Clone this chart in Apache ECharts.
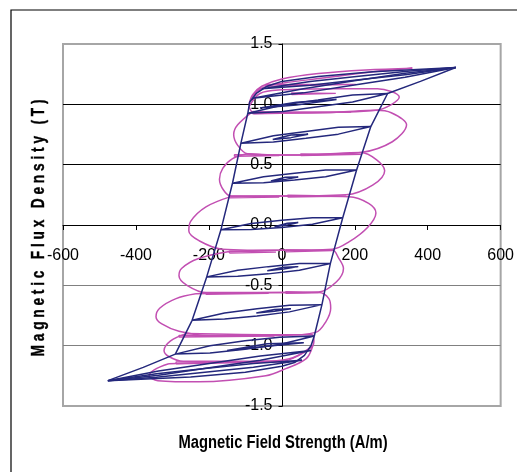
<!DOCTYPE html>
<html>
<head>
<meta charset="utf-8">
<script src="https://cdn.jsdelivr.net/npm/echarts@6/dist/echarts.min.js"></script>
<style>
html, body { margin: 0; padding: 0; background: #fff; }
#chart { width: 517px; height: 472px; }
</style>
</head>
<body>
<div id="chart"></div>
<script>
// --- navy: main loop branches ---
var navyLeft   = [[-93,0.93],[-112,0.68],[-135,0.35],[-167,-0.04],[-206,-0.43],[-246,-0.79],[-292,-1.07],[-380,-1.18],[-477,-1.29]];
var navyRight  = [[89,-0.92],[110,-0.66],[133,-0.32],[167,0.06],[205,0.456],[244,0.816],[290,1.09],[380,1.19],[477,1.305]];
var navyTop    = [[-93,0.93],[-88,1.02],[-70,1.09],[-40,1.15],[0,1.19],[100,1.23],[250,1.27],[477,1.305]];
var navyBottom = [[89,-0.92],[80,-1.0],[62,-1.08],[35,-1.14],[0,-1.17],[-100,-1.22],[-250,-1.26],[-477,-1.29]];

// --- navy: minor loops ---
var loopA  = [[-292,-1.07],[-197,-1.06],[-101,-1.03],[-6,-0.99],[89,-0.92],[-6,-0.93],[-101,-0.96],[-197,-1.0],[-292,-1.07]];
var loopB  = [[-246,-0.79],[-157,-0.78],[-68,-0.755],[21,-0.72],[110,-0.66],[21,-0.665],[-68,-0.695],[-157,-0.73],[-246,-0.79]];
var loopC  = [[-206,-0.43],[-121,-0.425],[-37,-0.405],[48,-0.375],[133,-0.32],[48,-0.32],[-37,-0.345],[-121,-0.375],[-206,-0.43]];
var loopD  = [[-167,-0.04],[-84,-0.037],[0,-0.02],[84,0.007],[167,0.06],[84,0.06],[0,0.04],[-84,0.013],[-167,-0.04]];
var loopE  = [[-135,0.346],[-50,0.35],[35,0.373],[120,0.4],[205,0.456],[120,0.455],[35,0.428],[-50,0.4],[-135,0.346]];
var loopF  = [[-112,0.677],[-23,0.688],[66,0.718],[155,0.753],[244,0.816],[155,0.81],[66,0.775],[-23,0.74],[-112,0.677]];
var loopG  = [[-93,0.926],[3,0.94],[99,0.98],[194,1.02],[290,1.09],[194,1.078],[99,1.036],[3,0.995],[-93,0.926]];
var loopH1 = [[-80,1.05],[59,1.095],[199,1.16],[338,1.225],[477,1.305],[338,1.258],[199,1.195],[59,1.13],[-80,1.05]];
var loopH2 = [[-55,1.13],[78,1.158],[211,1.203],[344,1.248],[477,1.305],[344,1.275],[211,1.233],[78,1.19],[-55,1.13]];
var loopK1 = [[-477,-1.29],[-338,-1.245],[-199,-1.183],[-59,-1.12],[80,-1.04],[-59,-1.085],[-199,-1.148],[-338,-1.21],[-477,-1.29]];
var loopK2 = [[-477,-1.29],[-344,-1.262],[-211,-1.22],[-78,-1.178],[55,-1.12],[-78,-1.148],[-211,-1.19],[-344,-1.232],[-477,-1.29]];
var innerA = [[-150,-1.04],[-40,-1.005],[60,-0.975],[-40,-0.985],[-150,-1.04]];
var innerB = [[-70,-0.73],[-20,-0.715],[25,-0.695],[-20,-0.7],[-70,-0.73]];
var innerC = [[-40,-0.38],[5,-0.365],[45,-0.345],[5,-0.35],[-40,-0.38]];
var innerD = [[-20,-0.015],[15,0.0],[45,0.02],[15,0.015],[-20,-0.015]];
var innerE = [[-30,0.365],[10,0.378],[45,0.398],[10,0.395],[-30,0.365]];
var innerF = [[-25,0.708],[25,0.724],[72,0.752],[25,0.745],[-25,0.708]];
var innerG = [[-60,0.97],[40,0.995],[150,1.04],[40,1.018],[-60,0.97]];

// --- magenta loops ---
var magT  = [[-90,1.0],[-80,1.08],[-55,1.15],[0,1.21],[100,1.255],[230,1.285],[358,1.30],[250,1.27],[120,1.22],[0,1.175],[-50,1.14],[-80,1.07],[-90,1.0]];
var mag3  = [[-90,0.98],[-60,1.09],[0,1.12],[150,1.13],[262,1.13],[322,1.06],[258,0.95],[150,0.935],[0,0.93],[-75,0.925],[-90,0.98]];
var mag2  = [[-80,0.94],[-121,0.83],[-132,0.75],[-121,0.66],[-94,0.59],[0,0.58],[120,0.585],[217,0.6],[303,0.69],[342,0.83],[300,0.93],[258,0.95],[150,0.935],[0,0.93],[-80,0.94]];
var mag1  = [[-94,0.59],[-135,0.55],[-162,0.47],[-171,0.38],[-160,0.29],[-140,0.24],[0,0.24],[176,0.25],[249,0.33],[282,0.45],[260,0.54],[217,0.6],[100,0.585],[0,0.58],[-94,0.59]];
var mag0  = [[-140,0.235],[-208,0.15],[-250,0.03],[-255,-0.05],[-227,-0.13],[-164,-0.2],[0,-0.21],[139,-0.2],[184,-0.14],[235,-0.02],[258,0.1],[238,0.18],[184,0.235],[0,0.24],[-140,0.235]];
var magM1 = [[-144,-0.22],[-230,-0.28],[-275,-0.36],[-282,-0.42],[-260,-0.5],[-208,-0.56],[0,-0.56],[101,-0.555],[150,-0.47],[169,-0.36],[155,-0.27],[139,-0.21],[0,-0.21],[-144,-0.22]];
var magM2 = [[-236,-0.57],[-290,-0.61],[-335,-0.69],[-345,-0.76],[-329,-0.82],[-282,-0.88],[-200,-0.915],[0,-0.915],[93,-0.89],[121,-0.8],[134,-0.69],[129,-0.61],[101,-0.56],[0,-0.56],[-236,-0.57]];
var magM3 = [[-263,-0.9],[-305,-0.96],[-323,-1.04],[-310,-1.09],[-270,-1.13],[0,-1.13],[47,-1.08],[85,-1.0],[88,-0.95],[82,-0.91],[0,-0.91],[-263,-0.9]];
var magM4 = [[-310,-1.15],[-350,-1.2],[-364,-1.25],[-340,-1.29],[-227,-1.30],[-44,-1.25],[11,-1.19],[66,-1.11],[85,-1.0],[30,-1.1],[-44,-1.13],[-200,-1.14],[-310,-1.15]];

// --- magenta flat double segments at the loop levels ---
var dashes = [
	[[-44,1.15],[203,1.165],[203,1.18],[-44,1.165],[-44,1.15]],
	[[27,1.08],[148,1.09],[148,1.105],[27,1.095],[27,1.08]],
	[[-80,0.922],[190,0.935],[190,0.95],[-80,0.937],[-80,0.922]],
	[[-130,0.568],[-7,0.575],[-7,0.59],[-130,0.583],[-130,0.568]],
	[[52,0.575],[217,0.585],[217,0.6],[52,0.59],[52,0.575]],
	[[-144,0.225],[-7,0.232],[-7,0.247],[-144,0.24],[-144,0.225]],
	[[16,0.232],[176,0.24],[176,0.255],[16,0.247],[16,0.232]],
	[[-144,-0.232],[-16,-0.225],[-16,-0.21],[-144,-0.217],[-144,-0.232]],
	[[11,-0.222],[139,-0.212],[139,-0.197],[11,-0.207],[11,-0.222]],
	[[-208,-0.575],[-36,-0.567],[-36,-0.552],[-208,-0.56],[-208,-0.575]],
	[[11,-0.567],[101,-0.56],[101,-0.545],[11,-0.552],[11,-0.567]],
	[[-282,-0.93],[-20,-0.92],[-20,-0.905],[-282,-0.915],[-282,-0.93]],
	[[-290,-1.15],[11,-1.135],[11,-1.12],[-290,-1.135],[-290,-1.15]]
];

var NAVY = '#24287c';
var MAGENTA = '#c24fb2';
var labelFont = '"Liberation Sans", Arial, sans-serif';

var series = [];
[magT, mag3, mag2, mag1, mag0, magM1, magM2, magM3, magM4].forEach(function (d) {
	series.push({ type: 'line', data: d, smooth: 0.35, showSymbol: false, lineStyle: { color: MAGENTA, width: 1.5 }, z: 2 });
});
dashes.forEach(function (d) {
	series.push({ type: 'line', data: d, showSymbol: false, lineStyle: { color: MAGENTA, width: 1.3 }, z: 2 });
});
[navyLeft, navyRight, navyTop, navyBottom,
 loopA, loopB, loopC, loopD, loopE, loopF, loopG, loopH1, loopH2, loopK1, loopK2,
 innerA, innerB, innerC, innerD, innerE, innerF, innerG].forEach(function (d) {
	series.push({ type: 'line', data: d, showSymbol: false, lineStyle: { color: NAVY, width: 1.5 }, z: 3 });
});

var chart = echarts.init(document.getElementById('chart'));
chart.setOption({
	animation: false,
	backgroundColor: '#fff',
	grid: { left: 63, right: 15, top: 44, bottom: 66, show: true, borderColor: '#a6a6a6', borderWidth: 2, backgroundColor: 'transparent' },
	xAxis: {
		type: 'value', min: -600, max: 600, interval: 200,
		position: 'bottom', offset: -181,
		axisLine: { onZero: false, lineStyle: { color: '#000', width: 1 } },
		axisTick: { show: true, length: 5, lineStyle: { color: '#000' } },
		axisLabel: { margin: 23, color: '#000', fontSize: 16, fontFamily: labelFont },
		splitLine: { show: false }
	},
	yAxis: {
		type: 'value', min: -1.5, max: 1.5, interval: 0.5,
		position: 'left', offset: -219.5,
		axisLine: { onZero: false, lineStyle: { color: '#000', width: 1 } },
		axisTick: { show: true, length: 4, lineStyle: { color: '#000' } },
		axisLabel: { margin: 10, color: '#000', fontSize: 16, fontFamily: labelFont,
			formatter: function (v) { return v.toFixed(1); } },
		splitLine: { show: true, lineStyle: { color: ['#a6a6a6', '#808080', '#808080', '#000', '#000', '#000', '#a6a6a6'], width: 1 } }
	},
	graphic: [
		{ type: 'rect', shape: { x: 11, y: 10, width: 620, height: 600 }, style: { fill: 'none', stroke: '#000', lineWidth: 1.2 }, silent: true },
		{ type: 'text', x: 283, y: 443, scaleX: 0.82, style: { text: 'Magnetic Field Strength (A/m)', fontWeight: 'bold', fontSize: 18, fontFamily: labelFont, fill: '#000', textAlign: 'center', textVerticalAlign: 'middle' } },
		{ type: 'text', x: 39, y: 228, rotation: Math.PI / 2, scaleX: 0.76, style: { text: 'M a g n e t i c   F l u x   D e n s i t y   ( T )', fontWeight: 'bold', fontSize: 18, fontFamily: labelFont, fill: '#000', stroke: '#000', lineWidth: 0.4, textAlign: 'center', textVerticalAlign: 'middle' } }
	],
	series: series
});
</script>
</body>
</html>
